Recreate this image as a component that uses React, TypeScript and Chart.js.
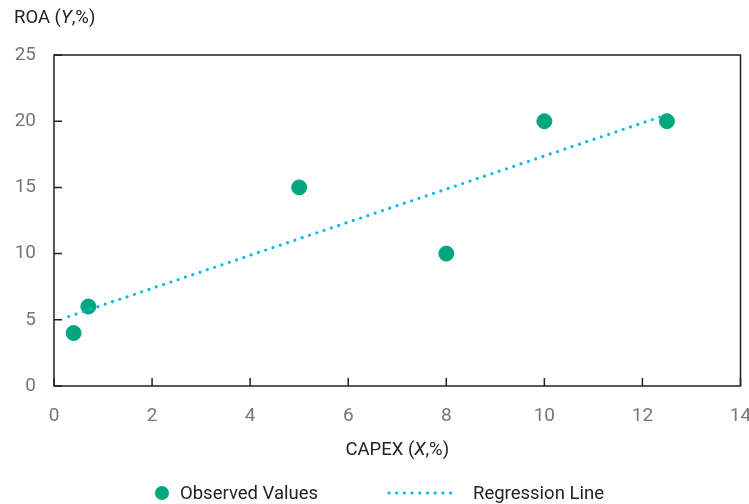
import React, { useEffect, useRef } from "react";
import { Chart, registerables } from "chart.js";

Chart.register(...registerables);

const capexX = [0.4, 0.7, 5, 8, 10, 12.5];
const roaY = [4, 6, 15, 10, 20, 20];
const regressionX = [0.3, 12.5];
const regressionY = [5.25, 20.5];
const xTickValues = [0, 2, 4, 6, 8, 10, 12, 14];
const yTickValues = [0, 5, 10, 15, 20, 25];
const seriesNames = ["Observed Values", "Regression Line"];

const GREEN = "#00a67e";
const BLUE = "#00b8ea";
const FONT = "Roboto, 'Liberation Sans', sans-serif";

type Part = { t: string; i?: boolean };

function drawMixed(ctx: CanvasRenderingContext2D, parts: Part[], x: number, y: number, size: number, align: "left" | "center") {
  const fontOf = (p: Part) => `${p.i ? "italic " : ""}${size}px ${FONT}`;
  let total = 0;
  for (const p of parts) {
    ctx.font = fontOf(p);
    total += ctx.measureText(p.t).width;
  }
  let cx = align === "center" ? x - total / 2 : x;
  ctx.textAlign = "left";
  ctx.textBaseline = "middle";
  for (const p of parts) {
    ctx.font = fontOf(p);
    ctx.fillText(p.t, cx, y);
    cx += ctx.measureText(p.t).width;
  }
}

const decorPlugin = {
  id: "decor",
  afterDatasetsDraw(chart: any) {
    const ctx: CanvasRenderingContext2D = chart.ctx;
    const a = chart.chartArea;
    const xs = chart.scales.x;
    const ys = chart.scales.y;
    ctx.save();
    ctx.strokeStyle = "#222";
    ctx.lineWidth = 1.5;
    ctx.strokeRect(a.left, a.top, a.right - a.left, a.bottom - a.top);
    ctx.beginPath();
    for (const v of xTickValues) {
      const px = xs.getPixelForValue(v);
      ctx.moveTo(px, a.bottom);
      ctx.lineTo(px, a.bottom - 8);
    }
    for (const v of yTickValues) {
      const py = ys.getPixelForValue(v);
      ctx.moveTo(a.left, py);
      ctx.lineTo(a.left + 8, py);
    }
    ctx.stroke();

    ctx.fillStyle = "#222";
    drawMixed(ctx, [{ t: "ROA (" }, { t: "Y", i: true }, { t: ",%)" }], 14, 18, 18.5, "left");
    drawMixed(ctx, [{ t: "CAPEX (" }, { t: "X", i: true }, { t: ",%)" }], (a.left + a.right) / 2, 450, 18.5, "center");

    // legend
    ctx.fillStyle = GREEN;
    ctx.beginPath();
    ctx.arc(162, 493, 7, 0, Math.PI * 2);
    ctx.fill();
    ctx.fillStyle = "#222";
    drawMixed(ctx, [{ t: seriesNames[0] }], 180, 494, 18.5, "left");
    ctx.strokeStyle = BLUE;
    ctx.lineWidth = 3.2;
    ctx.lineCap = "round";
    ctx.setLineDash([0, 7.7]);
    ctx.beginPath();
    ctx.moveTo(389, 493);
    ctx.lineTo(458, 493);
    ctx.stroke();
    ctx.setLineDash([]);
    drawMixed(ctx, [{ t: seriesNames[1] }], 473, 494, 18.5, "left");
    ctx.restore();
  },
};

export default function App() {
  const ref = useRef<HTMLCanvasElement>(null);
  useEffect(() => {
    document.body.style.margin = "0";
    const chart = new Chart(ref.current!, {
      type: "scatter",
      data: {
        datasets: [
          {
            type: "line",
            label: seriesNames[1],
            data: regressionX.map((x, i) => ({ x, y: regressionY[i] })),
            showLine: true,
            borderColor: BLUE,
            borderWidth: 3.2,
            borderDash: [0, 7.7],
            borderCapStyle: "round",
            pointRadius: 0,
            fill: false,
          } as any,
          {
            label: seriesNames[0],
            data: capexX.map((x, i) => ({ x, y: roaY[i] })),
            backgroundColor: GREEN,
            borderColor: GREEN,
            pointRadius: 7.5,
            pointHoverRadius: 7.5,
          },
        ],
      },
      options: {
        animation: false,
        responsive: false,
        maintainAspectRatio: false,
        layout: { padding: { left: 0, top: 55, right: 7, bottom: 0 } },
        plugins: { legend: { display: false }, tooltip: { enabled: false } },
        scales: {
          x: {
            type: "linear",
            min: 0,
            max: 14,
            afterBuildTicks: (s: any) => { s.ticks = xTickValues.map((v) => ({ value: v })); },
            afterFit: (s: any) => { s.height = 118; s.paddingLeft = 0; s.paddingRight = 0; },
            grid: { display: false, drawTicks: false },
            border: { display: false },
            ticks: { color: "#777", font: { family: FONT, size: 19 }, padding: 19, maxRotation: 0 },
          },
          y: {
            type: "linear",
            min: 0,
            max: 25,
            afterBuildTicks: (s: any) => { s.ticks = yTickValues.map((v) => ({ value: v })); },
            afterFit: (s: any) => { s.width = 54; s.paddingTop = 0; s.paddingBottom = 0; },
            grid: { display: false, drawTicks: false },
            border: { display: false },
            ticks: { color: "#777", font: { family: FONT, size: 19 }, padding: 18 },
          },
        },
      },
      plugins: [decorPlugin],
    });
    return () => chart.destroy();
  }, []);
  return (
    <div style={{ position: "absolute", left: 0, top: 0, width: 749, height: 504 }}>
      <canvas ref={ref} width={749} height={504} style={{ width: 749, height: 504 }} />
    </div>
  );
}
